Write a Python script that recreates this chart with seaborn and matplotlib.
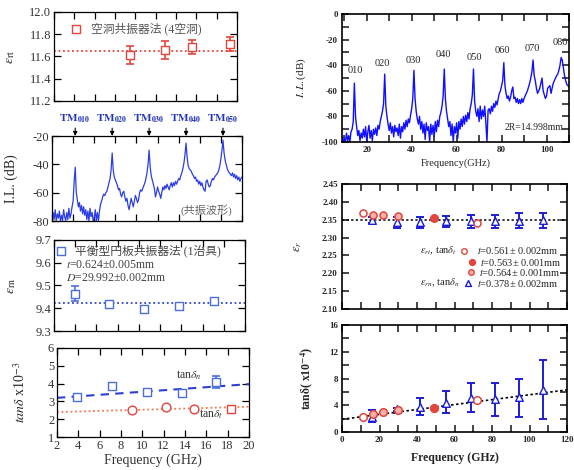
import numpy as np
import pandas as pd
import matplotlib
matplotlib.use("Agg")
import matplotlib.pyplot as plt
from matplotlib.ticker import MultipleLocator, FormatStrFormatter
import seaborn as sns

# ---------------- data ----------------
# (a) cavity resonator method, eps_rt
cav_freq = [9.5, 12.9, 15.6, 19.3]
cav_eps = [11.61, 11.655, 11.687, 11.713]
cav_err = [0.08, 0.08, 0.065, 0.065]
cav_mean = 11.652

# (b) resonance waveform of the balanced disk resonator
tm_freq = [4.2, 7.7, 11.2, 14.7, 18.2]
tm_names = ["010", "020", "030", "040", "050"]
wave_freq = np.linspace(2, 20, 181)
wave_db = [
    -80, -74, -79, -72, -80, -75, -78, -73, -80, -76,
    -80, -72, -77, -80, -74, -79, -71, -78, -75, -70,
    -66, -52, -42, -60, -65, -70, -67, -73, -69, -75,
    -70, -76, -72, -79, -73, -80, -71, -77, -74, -80,
    -78, -72, -80, -74, -80, -73, -68, -66, -63, -61,
    -62, -60, -59, -56, -53, -50, -44, -32, -44, -49,
    -51, -53, -55, -58, -57, -61, -63, -60, -59, -63,
    -66, -64, -69, -72, -68, -64, -67, -70, -66, -62,
    -64, -67, -65, -60, -58, -59, -57, -55, -53, -50,
    -46, -40, -30, -42, -48, -51, -54, -57, -63, -60,
    -56, -59, -61, -64, -60, -56, -58, -55, -57, -54,
    -56, -58, -55, -53, -56, -53, -55, -52, -54, -52,
    -50, -51, -48, -46, -43, -39, -33, -25, -35, -41,
    -43, -44, -45, -47, -48, -50, -49, -52, -51, -54,
    -52, -55, -53, -56, -58, -59, -52, -51, -54, -56,
    -55, -52, -50, -51, -49, -48, -47, -46, -44, -41,
    -36, -30, -23, -32, -37, -40, -43, -45, -46, -47,
    -48, -46, -49, -47, -50, -48, -51, -49, -52, -50,
    -49]

# (c) balanced disk resonator method, eps_rm
bdr_freq = [4.0, 7.2, 10.5, 13.8, 17.1]
bdr_eps = [9.463, 9.418, 9.398, 9.412, 9.433]
bdr_err = [0.033, 0.006, 0.006, 0.006, 0.006]
bdr_mean = 9.424

# (d) tan delta x1e-3
tn_freq = [3.9, 7.2, 10.4, 13.7, 16.9]
tn_val = [3.23, 3.88, 3.54, 3.48, 4.1]
tn_err = [0.05, 0.05, 0.05, 0.08, 0.35]
tt_freq_c = [9.0, 12.2, 14.8]
tt_val_c = [2.5, 2.68, 2.56]
tt_freq_s = [18.3]
tt_val_s = [2.55]
tn_fit_x = [2, 20]
tn_fit_y = [3.2, 3.97]
tt_fit_x = [2, 20]
tt_fit_y = [2.4, 2.7]

# (e) wide-band spectrum, 2R = 14.998 mm
spec_names = ["010", "020", "030", "040", "050", "060", "070", "080"]
spec_lab_x = [14.8, 26.9, 40.7, 54.1, 67.9, 80.5, 93.7, 106.0]
spec_lab_y = [-43.9, -38.6, -36.0, -32.0, -34.2, -28.7, -26.9, -22.2]
spec_freq = np.linspace(9, 110, 203)
spec_db = [
    -96, -100,
    -97, -100, -93, -99, -95, -100, -92, -90, -84, -54,
    -80, -88, -95, -91, -99, -93, -97, -90, -96, -88,
    -100, -92, -87, -97, -91, -99, -90, -94, -89, -95,
    -87, -90, -84, -80, -76, -70, -47, -72, -80, -86,
    -91, -85, -93, -88, -96, -87, -92, -89, -95, -86,
    -97, -88, -92, -85, -90, -83, -88, -82, -85, -79,
    -74, -66, -44, -66, -76, -82, -86, -80, -90, -84,
    -93, -86, -98, -85, -91, -88, -100, -86, -94, -87,
    -96, -84, -92, -83, -88, -80, -77, -72, -64, -43,
    -66, -76, -82, -88, -84, -95, -86, -100, -88, -93,
    -85, -97, -84, -90, -82, -88, -80, -86, -79, -84,
    -77, -82, -74, -70, -63, -43, -68, -76, -80, -74,
    -84, -72, -82, -75, -80, -72, -85, -100, -75, -74,
    -78, -72, -76, -70, -73, -68, -71, -66, -62, -60,
    -56, -52, -38, -56, -62, -66, -64, -68, -65, -60,
    -57, -66, -65, -69, -66, -70, -67, -70, -66, -69,
    -66, -64, -62, -60, -57, -54, -50, -45, -36, -48,
    -52, -58, -62, -60, -58, -54, -50, -60, -63, -66,
    -64, -58, -57, -56, -62, -58, -54, -52, -50, -48,
    -47, -44, -40, -34, -36, -42, -48, -52, -55, -56,
    -57]

# (f) eps_r vs frequency (wide band)
rn_freq = [15.8, 29.2, 41.6, 55.5, 68.6, 81.6, 94.6, 107.0]
rn_eps = [2.350, 2.343, 2.343, 2.345, 2.346, 2.345, 2.347, 2.348]
rn_eps_err = [0.008, 0.015, 0.015, 0.016, 0.018, 0.019, 0.021, 0.022]
rt_open_freq = [11.4, 71.8]
rt_open_eps = [2.368, 2.342]
rt_open_tan = [2.29, 4.78]
rt_fill_freq = [49.2]
rt_fill_eps = [2.355]
rt_fill_tan = [3.54]
rt_light_freq = [16.7, 22.0, 30.0]
rt_light_eps = [2.363, 2.363, 2.361]
rt_light_tan = [2.64, 2.94, 3.29]
eps_mean = 2.35

# (g) tan delta x1e-4 (wide band)
rn_tan = [2.29, 3.39, 3.69, 4.29, 5.04, 4.94, 5.28, 6.28]
rn_tan_lo = [0.75, 0.2, 1.15, 1.4, 2.0, 2.5, 3.0, 4.39]
rn_tan_hi = [1.0, 0.25, 1.35, 1.88, 2.24, 2.46, 2.71, 4.48]
tan_fit_x = [0, 120]
tan_fit_y = [1.9, 6.3]

# ---------------- style ----------------
sns.set_theme(style="ticks")
plt.rcParams['font.family'] = ['Liberation Serif', 'Noto Sans CJK JP', 'DejaVu Sans']
plt.rcParams['mathtext.fontset'] = 'stix'
plt.rcParams['axes.unicode_minus'] = False
plt.rcParams['xtick.direction'] = 'in'
plt.rcParams['ytick.direction'] = 'in'
plt.rcParams['axes.edgecolor'] = 'black'
plt.rcParams['axes.linewidth'] = 0.9

W, H = 574, 470
fig = plt.figure(figsize=(W / 100, H / 100), dpi=100)


def rect(x0, y0, x1, y1):
    return [x0 / W, 1 - y1 / H, (x1 - x0) / W, (y1 - y0) / H]


CJK = ['Liberation Serif', 'Noto Sans CJK JP']
RED = '#e2453c'
BLUE_L = '#4a6ee0'
BLUE = '#1c1cd8'
SQ = 32


def left_style(ax, labels=False):
    ax.set_xlim(2, 20)
    ax.xaxis.set_major_locator(MultipleLocator(2))
    ax.tick_params(which='both', top=True, right=True, length=5, width=0.9,
                   labelsize=9, pad=2, colors='black')
    if not labels:
        ax.tick_params(axis='x', labelbottom=False)
    for lab in ax.get_xticklabels() + ax.get_yticklabels():
        lab.set_color('#333333')


def right_style(ax):
    ax.tick_params(which='both', top=True, right=True, length=5, width=1.2,
                   labelsize=6.5, pad=3)
    for sp in ax.spines.values():
        sp.set_linewidth(1.2)
    for lab in ax.get_xticklabels() + ax.get_yticklabels():
        lab.set_fontweight('bold')


# ---- L1 ----
ax1 = fig.add_axes(rect(54, 12, 237, 101))
ax1.errorbar(cav_freq, cav_eps, yerr=cav_err, fmt='none', ecolor=RED, elinewidth=1.2,
             capsize=3, capthick=1.2)
sns.scatterplot(x=cav_freq, y=cav_eps, ax=ax1, marker='s', s=SQ, facecolor='white',
                edgecolor=RED, linewidth=1.0, zorder=3)
ax1.axhline(cav_mean, color=RED, ls=(0, (1, 1.5)), lw=1.3)
ax1.set_ylim(11.2, 12.0)
ax1.yaxis.set_major_locator(MultipleLocator(0.2))
ax1.yaxis.set_major_formatter(FormatStrFormatter('%.1f'))
left_style(ax1)
ax1.scatter([0.12], [0.81], transform=ax1.transAxes, marker='s', s=SQ,
            facecolor='white', edgecolor=RED, linewidth=1.0)
ax1.text(0.20, 0.81, '空洞共振器法 (4空洞)', transform=ax1.transAxes, fontsize=8.5,
         va='center', color='#555555', family=CJK)
ax1.set_ylabel(r'$\varepsilon_{\rm rt}$', fontsize=10)
ax1.yaxis.set_label_coords(-0.2, 0.5)

# ---- L2 ----
ax2 = fig.add_axes(rect(52, 136, 242, 221))
sns.lineplot(x=wave_freq, y=wave_db, ax=ax2, color='#2b3ee6', lw=0.9,
             estimator=None, sort=False)
ax2.set_ylim(-80, -20)
ax2.yaxis.set_major_locator(MultipleLocator(20))
left_style(ax2)
for f, n in zip(tm_freq, tm_names):
    ax2.annotate(r'$\mathbf{TM_{%s}}$' % n, xy=(f, -20), xycoords='data',
                 xytext=(f, 8), textcoords=('data', 'offset points'),
                 ha='center', va='bottom', fontsize=8, color='#2233bb',
                 arrowprops=dict(arrowstyle='-|>', color='black', lw=0.8,
                                 mutation_scale=6, shrinkA=0, shrinkB=0),
                 annotation_clip=False)
ax2.text(0.95, 0.13, '(共振波形)', transform=ax2.transAxes, fontsize=8, ha='right',
         va='center', color='#666666', family=CJK)
ax2.set_ylabel('I.L. (dB)', fontsize=10)
ax2.yaxis.set_label_coords(-0.18, 0.5)

# ---- L3 ----
ax3 = fig.add_axes(rect(54, 240, 245, 331))
ax3.errorbar(bdr_freq, bdr_eps, yerr=bdr_err, fmt='none', ecolor=BLUE_L, elinewidth=1.2,
             capsize=3, capthick=1.2)
sns.scatterplot(x=bdr_freq, y=bdr_eps, ax=ax3, marker='s', s=SQ, facecolor='white',
                edgecolor=BLUE_L, linewidth=1.0, zorder=3)
ax3.axhline(bdr_mean, color='#3344cc', ls=(0, (1, 1.5)), lw=1.3)
ax3.set_ylim(9.3, 9.7)
ax3.yaxis.set_major_locator(MultipleLocator(0.1))
ax3.yaxis.set_major_formatter(FormatStrFormatter('%.1f'))
left_style(ax3)
ax3.scatter([0.035], [0.88], transform=ax3.transAxes, marker='s', s=SQ,
            facecolor='white', edgecolor=BLUE_L, linewidth=1.0)
ax3.text(0.11, 0.88, '平衡型円板共振器法 (1治具)', transform=ax3.transAxes, fontsize=8.5,
         va='center', color='#444444', family=CJK)
ax3.text(0.065, 0.72, r'$t$=0.624±0.005mm', transform=ax3.transAxes, fontsize=8.5,
         va='center', color='#444444')
ax3.text(0.065, 0.585, r'$D$=29.992±0.002mm', transform=ax3.transAxes, fontsize=8.5,
         va='center', color='#444444')
ax3.set_ylabel(r'$\varepsilon_{\rm rn}$', fontsize=10)
ax3.yaxis.set_label_coords(-0.19, 0.5)

# ---- L4 ----
ax4 = fig.add_axes(rect(57, 348, 249, 437))
sns.lineplot(x=tn_fit_x, y=tn_fit_y, ax=ax4, color='#2f3fd0', lw=1.5,
             linestyle=(0, (4, 3)))
sns.lineplot(x=tt_fit_x, y=tt_fit_y, ax=ax4, color='#f07850', lw=1.3,
             linestyle=(0, (1, 1.5)))
ax4.errorbar(tn_freq, tn_val, yerr=tn_err, fmt='none', ecolor=BLUE_L, elinewidth=1.2,
             capsize=3, capthick=1.2)
sns.scatterplot(x=tn_freq, y=tn_val, ax=ax4, marker='s', s=SQ, facecolor='white',
                edgecolor=BLUE_L, linewidth=1.0, zorder=3)
sns.scatterplot(x=tt_freq_c, y=tt_val_c, ax=ax4, marker='o', s=40, facecolor='white',
                edgecolor=RED, linewidth=1.0, zorder=3)
sns.scatterplot(x=tt_freq_s, y=tt_val_s, ax=ax4, marker='s', s=SQ, facecolor='white',
                edgecolor=RED, linewidth=1.0, zorder=3)
ax4.set_ylim(1, 6)
ax4.yaxis.set_major_locator(MultipleLocator(1))
left_style(ax4, labels=True)
ax4.text(13.2, 4.45, r'tan$\delta_n$', fontsize=8.5, color='#333333', va='center')
ax4.text(15.3, 2.27, r'tan$\delta_t$', fontsize=8.5, color='#333333', va='center')
ax4.set_xlabel('Frequency (GHz)', fontsize=10, color='#333333', labelpad=1)
ax4.set_ylabel(r'$tan\delta$ x10$^{-3}$', fontsize=10)
ax4.yaxis.set_label_coords(-0.15, 0.5)

# ---- R1 ----
axr1 = fig.add_axes(rect(342, 14, 569, 142))
sns.lineplot(x=spec_freq, y=spec_db, ax=axr1, color='#1010ff', lw=1.0,
             estimator=None, sort=False)
axr1.set_xlim(9, 110)
axr1.set_ylim(-100, 0)
axr1.xaxis.set_major_locator(MultipleLocator(20))
axr1.xaxis.set_minor_locator(MultipleLocator(10))
axr1.yaxis.set_major_locator(MultipleLocator(20))
axr1.yaxis.set_minor_locator(MultipleLocator(10))
right_style(axr1)
for x, y, n in zip(spec_lab_x, spec_lab_y, spec_names):
    axr1.text(x, y, n, ha='center', va='center', fontsize=7.5)
axr1.text(81.5, -89, '2R=14.998mm', fontsize=7, va='center')
axr1.set_xlabel('Frequency(GHz)', fontsize=7.5, labelpad=3)
axr1.set_ylabel(r'$I.L.$(dB)', fontsize=8)
axr1.yaxis.set_label_coords(-0.15, 0.5)

# ---- R2 ----
axr2 = fig.add_axes(rect(342, 184, 567, 309))
axr2.axhline(eps_mean, color='black', ls=(0, (1.5, 1.5)), lw=1.1)
axr2.errorbar(rn_freq, rn_eps, yerr=rn_eps_err, fmt='none', ecolor=BLUE, elinewidth=1.4,
              capsize=3, capthick=1.4)
sns.scatterplot(x=rn_freq, y=rn_eps, ax=axr2, marker='^', s=30, facecolor='white',
                edgecolor=BLUE, linewidth=1.0, zorder=3)
red_f = rt_open_freq + rt_light_freq + rt_fill_freq
red_e = rt_open_eps + rt_light_eps + rt_fill_eps
axr2.errorbar(red_f, red_e, yerr=0.004, fmt='none', ecolor=RED, elinewidth=1.0,
              capsize=2.5, capthick=1.0)
sns.scatterplot(x=rt_open_freq, y=rt_open_eps, ax=axr2, marker='o', s=26, facecolor='white',
                edgecolor=RED, linewidth=1.1, zorder=3)
sns.scatterplot(x=rt_light_freq, y=rt_light_eps, ax=axr2, marker='o', s=26, facecolor='#f6b0a8',
                edgecolor=RED, linewidth=1.1, zorder=3)
sns.scatterplot(x=rt_fill_freq, y=rt_fill_eps, ax=axr2, marker='o', s=30, facecolor=RED,
                edgecolor=RED, linewidth=1.0, zorder=3)
axr2.set_xlim(0, 120)
axr2.set_ylim(2.10, 2.45)
axr2.xaxis.set_major_locator(MultipleLocator(20))
axr2.xaxis.set_minor_locator(MultipleLocator(10))
axr2.yaxis.set_major_locator(MultipleLocator(0.05))
axr2.yaxis.set_major_formatter(FormatStrFormatter('%.2f'))
axr2.tick_params(axis='x', labelbottom=False)
right_style(axr2)
tr = axr2.transAxes
FS = 7.5
axr2.text(0.345, 0.464, r'$\varepsilon_{rt}$, tan$\delta_t$', transform=tr, fontsize=FS,
          va='center')
axr2.scatter([0.542], [0.464], transform=tr, marker='o', s=16, facecolor='white',
             edgecolor=RED, linewidth=1.0)
axr2.text(0.6, 0.464, r'$t$=0.561± 0.002mm', transform=tr, fontsize=FS, va='center')
axr2.scatter([0.576], [0.374], transform=tr, marker='o', s=18, facecolor=RED,
             edgecolor=RED, linewidth=1.0)
axr2.text(0.613, 0.374, r'$t$=0.563± 0.001mm', transform=tr, fontsize=FS, va='center')
axr2.scatter([0.572], [0.294], transform=tr, marker='o', s=16, facecolor='#f6b0a8',
             edgecolor=RED, linewidth=1.0)
axr2.text(0.61, 0.294, r'$t$=0.564± 0.001mm', transform=tr, fontsize=FS, va='center')
axr2.text(0.345, 0.206, r'$\varepsilon_{rn}$, tan$\delta_n$', transform=tr, fontsize=FS,
          va='center')
axr2.scatter([0.559], [0.206], transform=tr, marker='^', s=18, facecolor='white',
             edgecolor=BLUE, linewidth=1.0)
axr2.text(0.6, 0.206, r'$t$=0.378± 0.002mm', transform=tr, fontsize=FS, va='center')
axr2.set_ylabel(r'$\varepsilon_r$', fontsize=9)
axr2.yaxis.set_label_coords(-0.17, 0.5)

# ---- R3 ----
axr3 = fig.add_axes(rect(342, 325, 567, 432))
sns.lineplot(x=tan_fit_x, y=tan_fit_y, ax=axr3, color='black', lw=1.2,
             linestyle=(0, (1.5, 1.5)))
axr3.errorbar(rn_freq, rn_tan, yerr=[rn_tan_lo, rn_tan_hi], fmt='none', ecolor=BLUE,
              elinewidth=1.4, capsize=3, capthick=1.4)
sns.scatterplot(x=rn_freq, y=rn_tan, ax=axr3, marker='^', s=30, facecolor='white',
                edgecolor=BLUE, linewidth=1.0, zorder=3)
sns.scatterplot(x=rt_open_freq, y=rt_open_tan, ax=axr3, marker='o', s=30, facecolor='white',
                edgecolor=RED, linewidth=1.1, zorder=3)
sns.scatterplot(x=rt_light_freq, y=rt_light_tan, ax=axr3, marker='o', s=30, facecolor='#f6b0a8',
                edgecolor=RED, linewidth=1.1, zorder=3)
sns.scatterplot(x=rt_fill_freq, y=rt_fill_tan, ax=axr3, marker='o', s=32, facecolor=RED,
                edgecolor=RED, linewidth=1.0, zorder=3)
axr3.set_xlim(0, 120)
axr3.set_ylim(0, 16)
axr3.xaxis.set_major_locator(MultipleLocator(20))
axr3.xaxis.set_minor_locator(MultipleLocator(10))
axr3.yaxis.set_major_locator(MultipleLocator(4))
axr3.yaxis.set_minor_locator(MultipleLocator(2))
right_style(axr3)
axr3.set_xlabel('Frequency (GHz)', fontsize=8.5, fontweight='bold', labelpad=6)
axr3.set_ylabel(r'tan$\mathbf{\delta}$( x10$^{\mathbf{-4}}$)', fontsize=8.5, fontweight='bold')
axr3.yaxis.set_label_coords(-0.12, 0.5)

fig.savefig('out.png', dpi=100)
